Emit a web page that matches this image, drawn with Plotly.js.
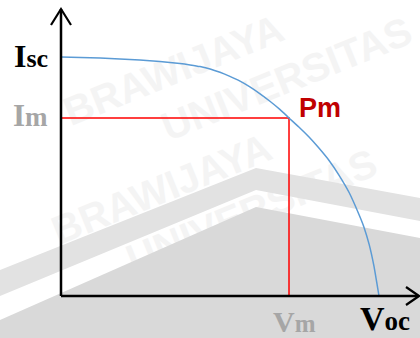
<!DOCTYPE html>
<html>
<head>
<meta charset="utf-8">
<script src="https://cdn.plot.ly/plotly-3.0.1.min.js"></script>
<style>html,body{margin:0;padding:0;background:#fff;}#chart{width:420px;height:338px;}</style>
</head>
<body>
<div id="chart"></div>
<script>
// I-V curve of a solar cell (normalised: Voc = 100, Isc = 100)
const voltage = [0, 12.3, 24.8, 31.1, 37.4, 40.6, 43.7, 46.9, 50.0, 53.1, 56.3, 59.4, 62.6, 65.7, 68.9, 71.7, 74.8, 78.0, 81.1, 84.3, 87.4, 90.6, 93.7, 95.3, 96.9, 98.4, 100];
const current = [100, 99.6, 98.7, 98.1, 97.3, 96.7, 96.0, 95.0, 93.6, 91.9, 89.9, 87.5, 84.6, 81.5, 78.0, 74.5, 70.7, 66.5, 61.9, 56.7, 50.6, 43.3, 34.1, 28.7, 21.6, 12.6, 0];
const Vm = 71.7;
const Im = 74.5;
const Voc = 100;
const Isc = 100;
const labelIsc = ['I', 'sc'];
const labelIm = ['I', 'm'];
const labelPm = 'Pm';
const labelVm = ['V', 'm'];
const labelVoc = ['V', 'oc'];
const watermarkWords = ['UNIVERSITAS', 'BRAWIJAYA', 'BRAWIJAYA', 'UNIVERSITAS'];

// pixel -> data helpers for layout decorations
const X = px => (px - 61) / 3.18;
const Y = py => (296 - py) / 2.39;

const traces = [
  {x: [0, Vm, Vm], y: [Im, Im, 0], mode: 'lines', line: {color: '#ff0000', width: 1.5}, hoverinfo: 'skip'},
  {x: voltage, y: current, mode: 'lines', line: {color: '#5b9bd5', width: 1.5, shape: 'spline', smoothing: 0.4}, hoverinfo: 'skip'}
];

const shapes = [];
// faint watermark words (placed fully inside the picture)
const wmPos = [[285, 75], [172, 66], [160, 185], [250, 207]];
watermarkWords.forEach((w, i) => {
  const [cx, cy] = wmPos[i];
  shapes.push({type: 'rect', xref: 'x', yref: 'y', layer: 'below',
    x0: X(cx - 10), x1: X(cx + 10), y0: Y(cy + 10), y1: Y(cy - 10),
    line: {width: 0}, fillcolor: 'rgba(0,0,0,0)',
    label: {text: w, textangle: -22, textposition: 'middle center',
      font: {family: 'Liberation Sans', size: 40, color: '#f4f4f4', weight: 'bold'}}});
});
// roof shapes
shapes.push({type: 'path', xref: 'x', yref: 'y', layer: 'below', line: {width: 0}, fillcolor: '#e2e2e2',
  path: `M${X(0)},${Y(270)} L${X(256)},${Y(168)} L${X(420)},${Y(198)} L${X(420)},${Y(221)} L${X(256)},${Y(190)} L${X(0)},${Y(296)} Z`});
shapes.push({type: 'path', xref: 'x', yref: 'y', layer: 'below', line: {width: 0}, fillcolor: '#d9d9d9',
  path: `M${X(0)},${Y(320)} L${X(256)},${Y(207)} L${X(420)},${Y(238)} L${X(420)},${Y(338)} L${X(0)},${Y(338)} Z`});
// axes
shapes.push({type: 'line', xref: 'x', yref: 'y', x0: 0, y0: 0, x1: 0, y1: Y(9), line: {color: '#000', width: 2.5}});
shapes.push({type: 'line', xref: 'x', yref: 'y', x0: 0, y0: 0, x1: X(418), y1: 0, line: {color: '#000', width: 2.5}});
shapes.push({type: 'path', xref: 'x', yref: 'y', line: {color: '#000', width: 2.2},
  path: `M${X(51)},${Y(25)} L${X(61)},${Y(9)} L${X(71)},${Y(25)}`});
shapes.push({type: 'path', xref: 'x', yref: 'y', line: {color: '#000', width: 2.2},
  path: `M${X(406)},${Y(287)} L${X(419)},${Y(296)} L${X(406)},${Y(305)}`});

const serif = 'Liberation Serif, Times New Roman, serif';
const big = (a, b, bs) => `<b>${a}<span style="font-size:${bs}px">${b}</span></b>`;
const annotations = [
  {x: 0, y: Isc, xref: 'x', yref: 'y', xshift: -11, yshift: 1, xanchor: 'right', yanchor: 'middle', showarrow: false,
   text: big(labelIsc[0], labelIsc[1], 26), font: {family: serif, size: 32, color: '#000'}},
  {x: 0, y: Im, xref: 'x', yref: 'y', xshift: -11, yshift: 2, xanchor: 'right', yanchor: 'middle', showarrow: false,
   text: big(labelIm[0], labelIm[1], 27), font: {family: serif, size: 31, color: '#a6a6a6'}},
  {x: Vm, y: Im, xref: 'x', yref: 'y', xshift: 8, yshift: 10, xanchor: 'left', yanchor: 'middle', showarrow: false,
   text: `<b>${labelPm}</b>`, font: {family: 'Liberation Sans, Arial, sans-serif', size: 27, color: '#c00000'}},
  {x: Vm, y: 0, xref: 'x', yref: 'y', xshift: 5, yshift: -25, xanchor: 'center', yanchor: 'middle', showarrow: false,
   text: big(labelVm[0], labelVm[1], 25), font: {family: serif, size: 30, color: '#a6a6a6'}},
  {x: Voc, y: 0, xref: 'x', yref: 'y', xshift: 6, yshift: -22, xanchor: 'center', yanchor: 'middle', showarrow: false,
   text: big(labelVoc[0], labelVoc[1], 27), font: {family: serif, size: 34, color: '#000'}}
];

const layout = {
  width: 420, height: 338,
  margin: {l: 0, r: 0, t: 0, b: 0, pad: 0},
  paper_bgcolor: '#ffffff', plot_bgcolor: '#ffffff',
  showlegend: false,
  xaxis: {range: [X(0), X(420)], visible: false, fixedrange: true},
  yaxis: {range: [Y(338), Y(0)], visible: false, fixedrange: true},
  shapes: shapes,
  annotations: annotations
};

Plotly.newPlot('chart', traces, layout, {staticPlot: true, displayModeBar: false});
</script>
</body>
</html>
